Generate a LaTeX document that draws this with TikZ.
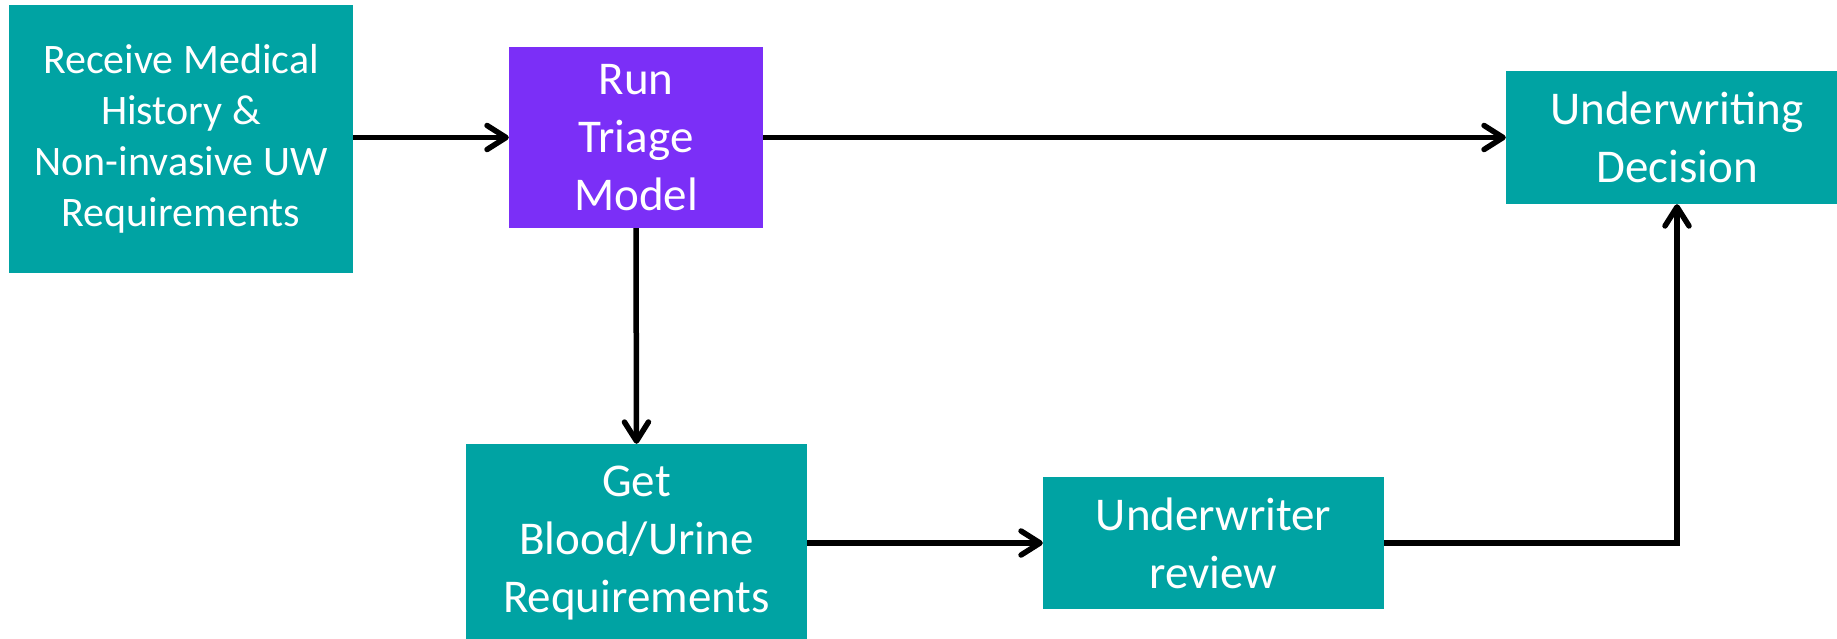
\documentclass[tikz,border=0pt]{standalone}
\usepackage{fontspec}
\setmainfont{Carlito}
\usetikzlibrary{arrows.meta}
\definecolor{tealbox}{RGB}{0,163,163}
\definecolor{purplebox}{RGB}{123,47,247}
\tikzset{
  box/.style={rectangle, inner sep=0pt, text=white, align=center, font=\fontsize{47}{58}\selectfont},
  conn/.style={line width=5.5pt, -{Straight Barb[length=19pt,width=24pt,line cap=round,line join=round]}},
}
\begin{document}
\begin{tikzpicture}[x=1pt,y=-1pt]
\useasboundingbox (0,0) rectangle (1837,639);
\node[box, fill=tealbox, minimum width=344pt, minimum height=268pt, font=\fontsize{42}{51}\selectfont] (b1) at (181,139) {Receive Medical\\History \&\\Non-invasive UW\\Requirements};
\node[box, fill=purplebox, minimum width=254pt, minimum height=181pt] (b2) at (636,137.5) {Run\\Triage\\Model};
\node[box, fill=tealbox, minimum width=342pt, minimum height=133pt] (b3) at (1677,137.5) {Underwriting\\Decision};
\node[box, fill=tealbox, minimum width=341pt, minimum height=198pt] (b4) at (636.5,543) {Get\\Blood/Urine\\Requirements};
\node[box, fill=tealbox, minimum width=341pt, minimum height=132pt] (b5) at (1213.5,543) {Underwriter\\review};
\draw[conn] (b1.east |- b2) -- (b2.west);
\draw[conn] (b2.east) -- (b3.west);
\draw[conn] (b2.south) -- (b4.north);
\draw[conn] (b4.east |- b5) -- (b5.west);
\draw[conn, line join=miter] (b5.east) -| (b3.south);
\end{tikzpicture}
\end{document}
